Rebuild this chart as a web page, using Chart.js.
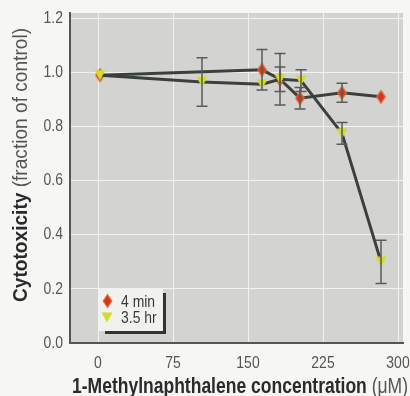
<!DOCTYPE html>
<html>
<head>
<meta charset="utf-8">
<script src="https://cdn.jsdelivr.net/npm/chart.js@4"></script>
<style>
  html, body { margin: 0; padding: 0; background: #f6f6f4; }
  #wrap { width: 410px; height: 396px; }
</style>
</head>
<body>
<div id="wrap"><canvas id="cytoChart" width="410" height="396"></canvas></div>
<script>
const FONT = "'Liberation Sans', Arial, sans-serif";
const SQUEEZE = 0.82; // the print uses a condensed face

// 4 min exposure
const conc4min = [2, 164, 182, 202, 244, 283];
const tox4min = [0.99, 1.01, 0.975, 0.905, 0.925, 0.91];
const err4min = [0, 0.075, 0.045, 0.04, 0.035, 0];

// 3.5 hr exposure
const conc35hr = [2, 104, 164, 182, 203, 244, 283];
const tox35hr = [0.99, 0.965, 0.957, 0.975, 0.97, 0.775, 0.3];
const err35hr = [0, 0.09, 0, 0.095, 0.04, 0.04, 0.08];

const xTicks = [0, 75, 150, 225, 300];
const yTicks = [0.0, 0.2, 0.4, 0.6, 0.8, 1.0, 1.2];

function makeDiamond() {
  const c = document.createElement("canvas");
  c.width = 11; c.height = 16;
  const g = c.getContext("2d");
  g.beginPath();
  g.moveTo(5.5, 0.5); g.lineTo(10.5, 8); g.lineTo(5.5, 15.5); g.lineTo(0.5, 8); g.closePath();
  g.fillStyle = "#e0702a"; g.fill();
  g.beginPath();
  g.moveTo(5.5, 2.5); g.lineTo(9, 8); g.lineTo(5.5, 13.5); g.lineTo(2, 8); g.closePath();
  g.fillStyle = "#d4342a"; g.fill();
  return c;
}

function makeTriangle() {
  const c = document.createElement("canvas");
  c.width = 12; c.height = 11;
  const g = c.getContext("2d");
  g.beginPath();
  g.moveTo(0.5, 0.5); g.lineTo(11.5, 0.5); g.lineTo(6, 10.5); g.closePath();
  g.fillStyle = "#d2dc2a"; g.fill();
  return c;
}

const diamond = makeDiamond();
const triangle = makeTriangle();

// condensed text helper: squeeze horizontally around the anchor
function squeezedText(ctx, text, x, y, align) {
  const w = ctx.measureText(text).width * SQUEEZE;
  let left = x;
  if (align === "center") left = x - w / 2;
  if (align === "right") left = x - w;
  ctx.save();
  ctx.translate(left, y);
  ctx.scale(SQUEEZE, 1);
  ctx.textAlign = "left";
  ctx.fillText(text, 0, 0);
  ctx.restore();
  return w;
}

// two-part title (bold + normal) fitted to a given width
function drawTitle(ctx, boldPart, plainPart, size, width) {
  ctx.font = "bold " + size + "px " + FONT;
  const w1 = ctx.measureText(boldPart).width;
  ctx.font = size + "px " + FONT;
  const w2 = ctx.measureText(plainPart).width;
  const k = width / (w1 + w2);
  ctx.save();
  ctx.scale(k, 1);
  ctx.textBaseline = "alphabetic";
  ctx.fillStyle = "#2b2b2b";
  ctx.font = "bold " + size + "px " + FONT;
  ctx.fillText(boldPart, -(w1 + w2) / 2, 0);
  ctx.fillStyle = "#555";
  ctx.font = size + "px " + FONT;
  ctx.fillText(plainPart, -(w1 + w2) / 2 + w1, 0);
  ctx.restore();
}

// error bars, drawn from the library's scales
const errorBars = {
  id: "errorBars",
  afterDatasetsDraw(chart) {
    const { ctx, scales: { x, y } } = chart;
    const sets = [[conc4min, tox4min, err4min], [conc35hr, tox35hr, err35hr]];
    ctx.save();
    ctx.strokeStyle = "#5a5a5a";
    ctx.lineWidth = 1.5;
    sets.forEach(([xs, ys, es]) => {
      xs.forEach((v, i) => {
        if (!es[i]) return;
        const px = x.getPixelForValue(v);
        const top = y.getPixelForValue(ys[i] + es[i]);
        const bot = y.getPixelForValue(ys[i] - es[i]);
        ctx.beginPath();
        ctx.moveTo(px, top); ctx.lineTo(px, bot);
        ctx.moveTo(px - 5.5, top); ctx.lineTo(px + 5.5, top);
        ctx.moveTo(px - 5.5, bot); ctx.lineTo(px + 5.5, bot);
        ctx.stroke();
      });
    });
    ctx.restore();
  }
};

// plot background, tick labels, axis titles and boxed legend
const decorations = {
  id: "decorations",
  beforeDraw(chart) {
    const { ctx, chartArea: a } = chart;
    ctx.save();
    ctx.fillStyle = "#d3d4d2";
    ctx.fillRect(a.left, a.top, a.right - a.left, a.bottom - a.top);
    ctx.restore();
  },
  afterDraw(chart) {
    const { ctx, chartArea: a, scales: { x, y } } = chart;
    ctx.save();
    ctx.fillStyle = "#555";
    ctx.font = "17px " + FONT;
    ctx.textBaseline = "middle";
    yTicks.forEach((v) => squeezedText(ctx, v.toFixed(1), a.left - 7, y.getPixelForValue(v), "right"));
    ctx.textBaseline = "alphabetic";
    xTicks.forEach((v) => squeezedText(ctx, String(v), x.getPixelForValue(v), a.bottom + 25, "center"));

    // x title
    ctx.save();
    ctx.translate(240, 393);
    drawTitle(ctx, "1-Methylnaphthalene concentration ", "(\u03bcM)", 22, 336);
    ctx.restore();

    // y title
    ctx.save();
    ctx.translate(27, 165);
    ctx.rotate(-Math.PI / 2);
    drawTitle(ctx, "Cytotoxicity ", "(fraction of control)", 21, 274);
    ctx.restore();

    // legend box with drop shadow
    ctx.fillStyle = "#333";
    ctx.fillRect(105, 293, 61, 41);
    ctx.fillStyle = "#f1f1ef";
    ctx.fillRect(99, 288, 64, 43);
    ctx.drawImage(diamond, 102, 293);
    ctx.drawImage(triangle, 101, 312);
    ctx.fillStyle = "#3a3a3a";
    ctx.font = "17px " + FONT;
    squeezedText(ctx, "4 min", 121, 307, "left");
    squeezedText(ctx, "3.5 hr", 121, 323, "left");
    ctx.restore();
  }
};

new Chart(document.getElementById("cytoChart").getContext("2d"), {
  type: "scatter",
  data: {
    datasets: [
      {
        label: "4 min",
        data: conc4min.map((v, i) => ({ x: v, y: tox4min[i] })),
        showLine: true,
        borderColor: "#3b403b",
        borderWidth: 3,
        pointStyle: diamond,
        order: 2
      },
      {
        label: "3.5 hr",
        data: conc35hr.map((v, i) => ({ x: v, y: tox35hr[i] })),
        showLine: true,
        borderColor: "#3b403b",
        borderWidth: 3,
        pointStyle: triangle,
        order: 1
      }
    ]
  },
  options: {
    responsive: false,
    animation: false,
    layout: { padding: { top: 13, right: 5, left: 0, bottom: 0 } },
    plugins: { legend: { display: false }, tooltip: { enabled: false } },
    scales: {
      x: {
        type: "linear",
        min: -28,
        max: 305,
        afterBuildTicks: (s) => { s.ticks = xTicks.map((v) => ({ value: v })); },
        afterFit: (s) => { s.height = 53; s.paddingLeft = 0; s.paddingRight = 0; },
        ticks: { display: false },
        grid: { color: "#f2f2f2", lineWidth: 1, drawTicks: false },
        border: { color: "#555", width: 2 }
      },
      y: {
        min: 0,
        max: 1.22,
        afterBuildTicks: (s) => { s.ticks = yTicks.map((v) => ({ value: v })); },
        afterFit: (s) => { s.width = 70; s.paddingTop = 0; s.paddingBottom = 0; },
        ticks: { display: false },
        grid: { color: "#f2f2f2", lineWidth: 1, drawTicks: false },
        border: { color: "#555", width: 2 }
      }
    }
  },
  plugins: [decorations, errorBars]
});
</script>
</body>
</html>
